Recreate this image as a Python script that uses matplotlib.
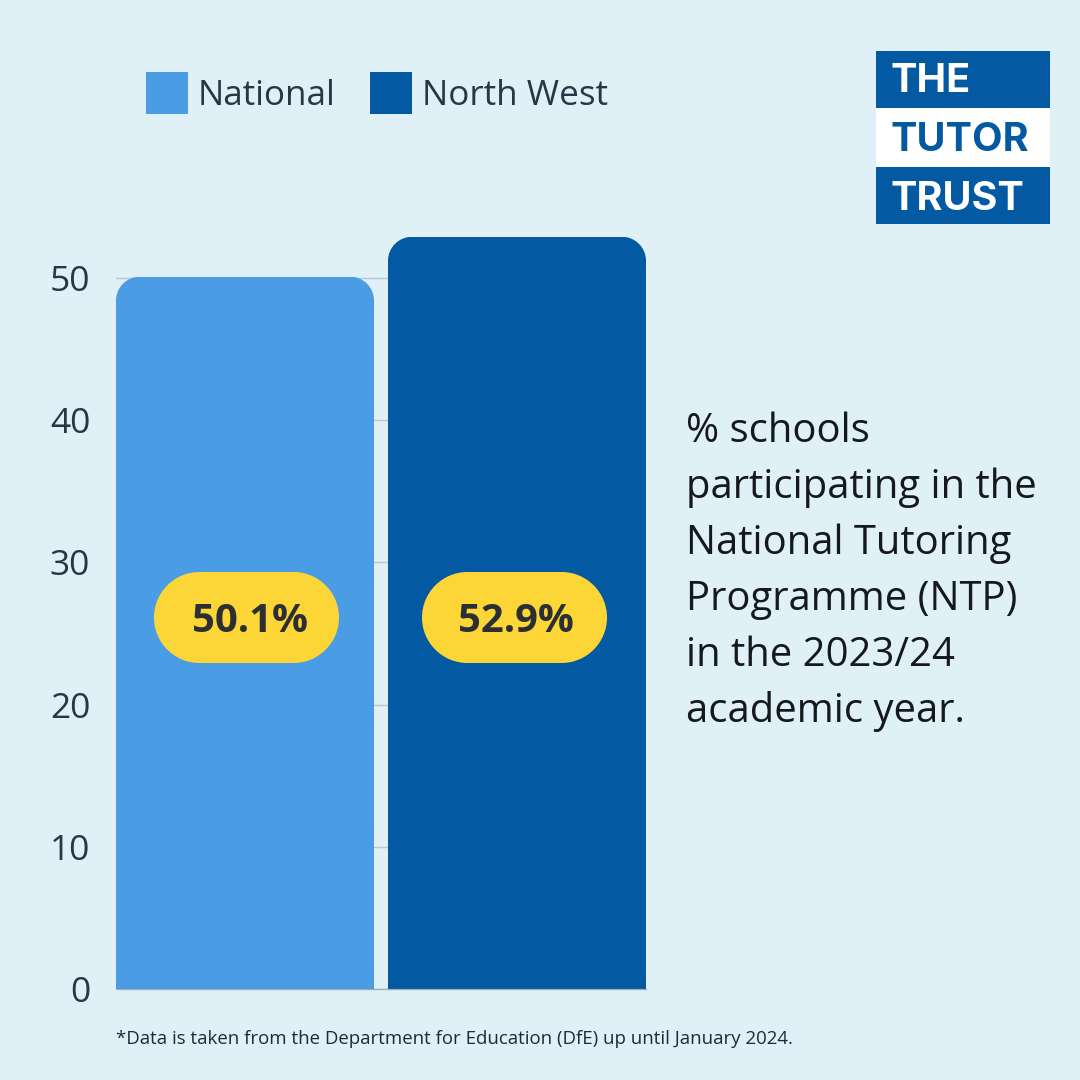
"""Share of schools in the NTP, national against North West."""

import matplotlib
matplotlib.use("Agg")
from matplotlib import pyplot as plt
from matplotlib.patches import Patch, PathPatch, Rectangle
from matplotlib.path import Path

categories = ["National", "North West"]
values = [50.1, 52.9]
value_labels = ["50.1%", "52.9%"]
y_ticks = [0, 10, 20, 30, 40, 50]
side_text = ["% schools", "participating in the", "National Tutoring",
             "Programme (NTP)", "in the 2023/24", "academic year."]
footnote = "*Data is taken from the Department for Education (DfE) up until January 2024."
logo_words = ["THE", "TUTOR", "TRUST"]

BG = "#DFF0F7"
LIGHT = "#4A9CE4"
DARK = "#045AA2"
YELLOW = "#FCD637"
INK = "#263746"
SIZE = 1080.0
K = 0.45  # bezier handle for a circular corner


def fx(x):
    return x / SIZE


def fy(y):
    # pixel rows count from the top of the picture
    return 1 - y / SIZE


def rounded_top(x0, x1, top, rx, ry):
    # top corners rounded, bottom left square
    verts = [(x0, 0), (x0, top - ry), (x0, top - ry * K), (x0 + rx * K, top),
             (x0 + rx, top), (x1 - rx, top), (x1 - rx * K, top), (x1, top - ry * K),
             (x1, top - ry), (x1, 0), (x0, 0)]
    codes = [Path.MOVETO, Path.LINETO, Path.CURVE4, Path.CURVE4, Path.CURVE4, Path.LINETO,
             Path.CURVE4, Path.CURVE4, Path.CURVE4, Path.LINETO, Path.CLOSEPOLY]
    return Path(verts, codes)


def pill(x0, x1, y0, y1):
    # fully rounded ends, two cubic segments per end
    r = (y1 - y0) / 2
    ym = (y0 + y1) / 2
    c = 0.5523 * r
    verts = [(x0 + r, y0), (x1 - r, y0),
             (x1 - r + c, y0), (x1, ym - c), (x1, ym),
             (x1, ym + c), (x1 - r + c, y1), (x1 - r, y1),
             (x0 + r, y1),
             (x0 + r - c, y1), (x0, ym + c), (x0, ym),
             (x0, ym - c), (x0 + r - c, y0), (x0 + r, y0),
             (x0 + r, y0)]
    codes = [Path.MOVETO, Path.LINETO] + [Path.CURVE4] * 6 + [Path.LINETO] + [Path.CURVE4] * 6 + [Path.CLOSEPOLY]
    return Path(verts, codes)


plt.rcParams["font.family"] = ["Open Sans", "DejaVu Sans"]
fig = plt.figure(figsize=(10.8, 10.8), dpi=100, facecolor=BG)

px_per_unit = (989 - 278) / 50.0
ax = fig.add_axes([fx(116), fy(989), fx(646 - 116), 55 * px_per_unit / SIZE])
ax.set_facecolor("none")
ax.set_xlim(-129 / 272.0, 1 + 129 / 272.0)
ax.set_ylim(0, 55)
for name, spine in ax.spines.items():
    spine.set_visible(name == "bottom")
ax.spines["bottom"].set_color("#6F808C90")
ax.spines["bottom"].set_linewidth(1.0)

ax.set_yticks(y_ticks)
ax.tick_params(axis="y", length=0, pad=18.5, labelsize=25.5, labelcolor=INK)
ax.set_xticks([])
ax.grid(axis="y", color="#BDC7CE", linewidth=1.0)
ax.set_axisbelow(True)

positions = range(len(values))
bars = ax.bar(positions, values, width=258 / 272.0, color=[LIGHT, DARK], zorder=2)
for bar, value in zip(bars, values):
    x0 = bar.get_x()
    shape = rounded_top(x0, x0 + bar.get_width(), value, 24 / 272.0, 24 / px_per_unit)
    bar.set_clip_path(shape, ax.transData)

# pills sit at the same height on both bars
pill_w, pill_h = 185, 91
for centre, text_x, label in zip([246.5, 514.5], [250, 515.5], value_labels):
    fig.add_artist(PathPatch(
        pill(fx(centre - pill_w / 2), fx(centre + pill_w / 2), fy(572 + pill_h), fy(572)),
        transform=fig.transFigure, facecolor=YELLOW, edgecolor="none", zorder=3))
    fig.text(fx(text_x), fy(632), label, ha="center", va="baseline", fontsize=28.8,
             fontweight="bold", color="#2B2F33", zorder=4)

handles = [Patch(facecolor=LIGHT, edgecolor="none"), Patch(facecolor=DARK, edgecolor="none")]
fig.legend(handles, categories, loc="upper left", bbox_to_anchor=(fx(146), fy(72)), ncol=2,
           frameon=False, fontsize=25.2, labelcolor=INK, borderpad=0, borderaxespad=0,
           handlelength=1.2, handleheight=1.47, handletextpad=10 / 35.0,
           columnspacing=34 / 35.0)

for i, line in enumerate(side_text):
    fig.text(fx(686), fy(442 + i * 56), line, ha="left", va="baseline", fontsize=28.8,
             color="#15191C")

fig.text(fx(116), fy(1044), footnote, ha="left", va="baseline", fontsize=13.38, color="#1D2B36")

# logo block
for top, bottom, fill in [(51, 108, DARK), (108, 167, "white"), (167, 224, DARK)]:
    fig.add_artist(Rectangle((fx(876), fy(bottom)), fx(174), fx(bottom - top),
                             transform=fig.transFigure, facecolor=fill, edgecolor="none"))
for word, base, colour in zip(logo_words, [92, 151, 210], ["white", DARK, "white"]):
    fig.text(fx(890), fy(base), word, ha="left", va="baseline", fontsize=28.5,
             fontweight="bold", family=["Inter", "DejaVu Sans"], color=colour)

fig.savefig("out.png", dpi=100, facecolor=BG)
